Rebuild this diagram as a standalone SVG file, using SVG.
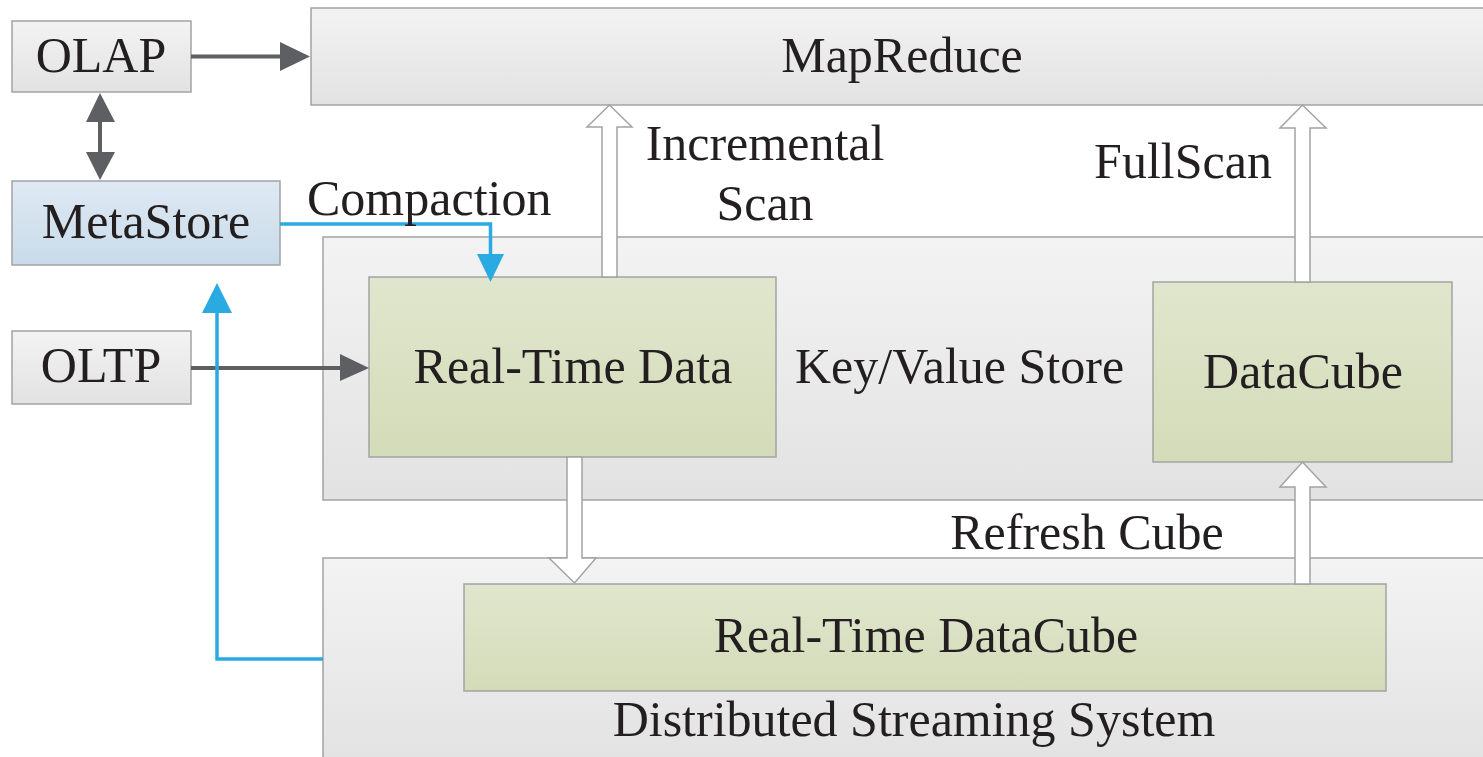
<svg xmlns="http://www.w3.org/2000/svg" width="1483" height="757" viewBox="0 0 1483 757">
<defs>
<linearGradient id="gGray" x1="0" y1="0" x2="0" y2="1"><stop offset="0" stop-color="#f3f3f3"/><stop offset="1" stop-color="#e2e2e2"/></linearGradient>
<linearGradient id="gGreen" x1="0" y1="0" x2="0" y2="1"><stop offset="0" stop-color="#e0e6cd"/><stop offset="1" stop-color="#d3dcb9"/></linearGradient>
<linearGradient id="gBlue" x1="0" y1="0" x2="0" y2="1"><stop offset="0" stop-color="#dfe9f3"/><stop offset="1" stop-color="#c8dbea"/></linearGradient>
</defs>
<style>
text{font-family:"Liberation Serif","Times New Roman",serif;font-size:50px;fill:#231f20}
.c{text-anchor:middle}
.box{stroke:#a3a3a3;stroke-width:1.5}
.gray{fill:url(#gGray)}
.green{fill:url(#gGreen)}
.blue{fill:url(#gBlue)}
.hollow{fill:#ffffff;stroke:#a3a3a3;stroke-width:1.5;stroke-linejoin:miter}
.dark{stroke:#5e5f63;stroke-width:4;fill:none}
.darkhead{fill:#5e5f63}
.cyan{stroke:#29abe2;stroke-width:3.5;fill:none}
.cyanhead{fill:#29abe2}
</style>
<g id="kvstore">
<rect class="box gray" x="323" y="237" width="1170" height="263"/>
<text x="795" y="383">Key/Value Store</text>
</g>
<g id="streaming">
<rect class="box gray" x="323" y="558" width="1170" height="210"/>
<text class="c" x="914" y="736">Distributed Streaming System</text>
</g>
<g id="mapreduce">
<rect class="box gray" x="311" y="8" width="1182" height="97"/>
<text class="c" x="902" y="72">MapReduce</text>
</g>
<g id="olap">
<rect class="box gray" x="12" y="21" width="179" height="71"/>
<text class="c" x="101" y="72">OLAP</text>
</g>
<g id="metastore">
<rect class="box blue" x="12" y="181" width="268" height="84"/>
<text class="c" x="146" y="238">MetaStore</text>
</g>
<g id="oltp">
<rect class="box gray" x="12" y="331" width="179" height="73"/>
<text class="c" x="101" y="382">OLTP</text>
</g>
<g id="realtimedata">
<rect class="box green" x="369" y="277" width="407" height="180"/>
<text class="c" x="573" y="383">Real-Time Data</text>
</g>
<g id="datacube">
<rect class="box green" x="1153" y="282" width="299" height="180"/>
<text class="c" x="1303" y="388">DataCube</text>
</g>
<g id="realtimedatacube">
<rect class="box green" x="464" y="584" width="922" height="107"/>
<text class="c" x="926" y="652">Real-Time DataCube</text>
</g>
<g id="connectors">
<polygon class="hollow" points="602,277 602,127 587,127 609.5,105 632,127 617,127 617,277"/>
<polygon class="hollow" points="1295,282 1295,128 1280,128 1302.5,105 1326,128 1310,128 1310,282"/>
<polygon class="hollow" points="1295,584 1295,487 1280,487 1302.5,462 1326,487 1310,487 1310,584"/>
<polygon class="hollow" points="567,457 567,558 549,558 574.5,583 596,558 582,558 582,457"/>
<line class="dark" x1="191" y1="56.5" x2="284" y2="56.5"/>
<polygon class="darkhead" points="280,42 310,56.5 280,71"/>
<line class="dark" x1="100" y1="118" x2="100" y2="156"/>
<polygon class="darkhead" points="86,122 100,93 115,122"/>
<polygon class="darkhead" points="86,152 100,180 115,152"/>
<line class="dark" x1="191" y1="368" x2="344" y2="368"/>
<polygon class="darkhead" points="340,354 369,368 340,381"/>
<path class="cyan" d="M280,224 H490.5 V258"/>
<polygon class="cyanhead" points="477,254 490.5,282 504,254"/>
<path class="cyan" d="M323,659 H217 V308"/>
<polygon class="cyanhead" points="202,313 217,283 232,313"/>
<text x="307" y="215">Compaction</text>
<text class="c" x="765" y="160">Incremental</text>
<text class="c" x="765" y="220">Scan</text>
<text class="c" x="1183" y="178">FullScan</text>
<text class="c" x="1087" y="549">Refresh Cube</text>
</g>
</svg>
